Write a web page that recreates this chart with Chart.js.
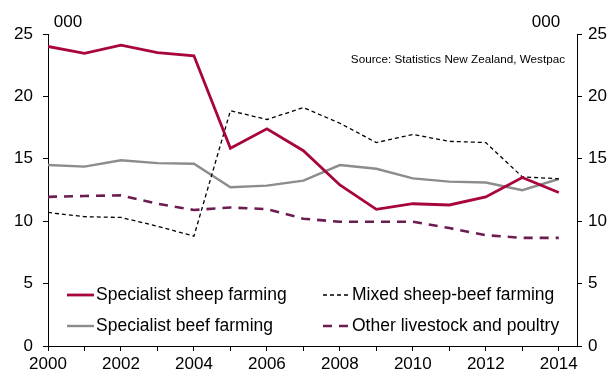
<!DOCTYPE html>
<html>
<head>
<meta charset="utf-8">
<script src="https://cdn.jsdelivr.net/npm/chart.js@4"></script>
<style>
    body { margin: 0; background: #fff; }
    canvas { display: block; }
</style>
</head>
<body>
<canvas id="chart" width="614" height="376"></canvas>
<script>
// Datos (miles)
const anios = [2000, 2001, 2002, 2003, 2004, 2005, 2006, 2007, 2008, 2009, 2010, 2011, 2012, 2013, 2014];
const ovejas = [24.0, 23.45, 24.1, 23.5, 23.25, 15.85, 17.4, 15.65, 12.9, 10.95, 11.4, 11.3, 11.95, 13.5, 12.3];
const mixto = [10.7, 10.36, 10.3, 9.6, 8.8, 18.85, 18.15, 19.1, 17.85, 16.3, 16.95, 16.4, 16.3, 13.55, 13.4];
const vacuno = [14.5, 14.37, 14.88, 14.65, 14.6, 12.72, 12.85, 13.25, 14.5, 14.2, 13.43, 13.17, 13.1, 12.48, 13.38];
const otros = [11.95, 12.02, 12.07, 11.4, 10.9, 11.1, 10.97, 10.2, 9.95, 9.95, 9.96, 9.45, 8.88, 8.66, 8.66];
const etiquetasY = [0, 5, 10, 15, 20, 25];
const nombres = ['Specialist sheep farming', 'Mixed sheep-beef farming', 'Specialist beef farming', 'Other livestock and poultry'];
const fuente = 'Source: Statistics New Zealand, Westpac';
const unidad = '000';

const fuenteTexto = 'Arial, "Liberation Sans", sans-serif';
Chart.defaults.font.family = fuenteTexto;
Chart.defaults.color = '#000';

const puntos = (valores) => valores.map((v, i) => ({ x: anios[i], y: v }));

// Leyenda y textos extra dibujados encima del gráfico
const extras = {
    id: 'extras',
    afterDraw(chart) {
        const ctx = chart.ctx;
        ctx.save();
        ctx.fillStyle = '#000';
        ctx.font = '17px ' + fuenteTexto;
        ctx.textAlign = 'center';
        ctx.textBaseline = 'middle';
        ctx.fillText(unidad, 68, 22);
        ctx.fillText(unidad, 546, 22);

        ctx.font = '11.7px ' + fuenteTexto;
        ctx.textAlign = 'right';
        ctx.fillText(fuente, 565, 60);

        const posiciones = [[67, 295], [323, 295], [67, 326], [323, 326]];
        ctx.font = '17.5px ' + fuenteTexto;
        ctx.textAlign = 'left';
        chart.data.datasets.forEach((ds, i) => {
            const [x, y] = posiciones[i];
            ctx.beginPath();
            ctx.strokeStyle = ds.borderColor;
            ctx.lineWidth = ds.borderWidth;
            ctx.setLineDash(ds.borderDash || []);
            ctx.moveTo(x, y);
            ctx.lineTo(x + 27, y);
            ctx.stroke();
            ctx.setLineDash([]);
            ctx.fillText(ds.label, x + 29, y);
        });
        ctx.restore();
    }
};

const ctx = document.getElementById('chart').getContext('2d');
new Chart(ctx, {
    type: 'line',
    data: {
        datasets: [
            { label: nombres[0], data: puntos(ovejas), borderColor: '#a8053a', borderWidth: 2.8 },
            { label: nombres[1], data: puntos(mixto), borderColor: '#000', borderWidth: 1.3, borderDash: [4, 3] },
            { label: nombres[2], data: puntos(vacuno), borderColor: '#8c8c8c', borderWidth: 2.4 },
            { label: nombres[3], data: puntos(otros), borderColor: '#6b1d50', borderWidth: 2.6, borderDash: [9, 7] }
        ]
    },
    options: {
        responsive: false,
        animation: false,
        elements: { point: { radius: 0 }, line: { tension: 0 } },
        layout: { padding: { top: 34, left: 0, right: 0, bottom: 0 } },
        plugins: { legend: { display: false }, tooltip: { enabled: false } },
        scales: {
            x: {
                type: 'linear',
                min: 2000,
                max: 2014.5,
                afterBuildTicks: (scale) => { scale.ticks = anios.map(v => ({ value: v })); },
                afterFit: (scale) => { scale.height = 30; },
                border: { color: '#000', width: 1 },
                grid: { drawOnChartArea: false, drawTicks: true, tickLength: 5, color: '#000' },
                ticks: {
                    autoSkip: false,
                    maxRotation: 0,
                    padding: 3,
                    font: { size: 17 },
                    callback: (v) => (v % 2 === 0 ? String(v) : '')
                }
            },
            y: {
                position: 'left',
                min: 0,
                max: 25,
                afterBuildTicks: (scale) => { scale.ticks = etiquetasY.map(v => ({ value: v })); },
                afterFit: (scale) => { scale.width = 48; },
                border: { color: '#000', width: 1 },
                grid: { drawOnChartArea: false, drawTicks: true, tickLength: 5, color: '#000' },
                ticks: { padding: 10, font: { size: 17 } }
            },
            y2: {
                position: 'right',
                min: 0,
                max: 25,
                afterBuildTicks: (scale) => { scale.ticks = etiquetasY.map(v => ({ value: v })); },
                afterFit: (scale) => { scale.width = 37; },
                border: { color: '#000', width: 1 },
                grid: { drawOnChartArea: false, drawTicks: true, tickLength: 5, color: '#000' },
                ticks: { padding: 6, font: { size: 17 } }
            }
        }
    },
    plugins: [extras]
});
</script>
</body>
</html>
